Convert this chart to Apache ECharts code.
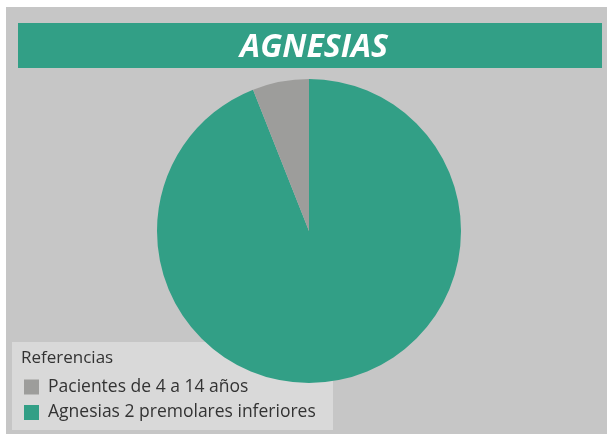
<!DOCTYPE html>
<html>
<head>
<meta charset="utf-8">
<script src="https://cdn.jsdelivr.net/npm/echarts@6/dist/echarts.min.js"></script>
<style>
    html, body { margin: 0; padding: 0; background: #ffffff; }
    #chart { width: 607px; height: 434px; }
</style>
</head>
<body>
<div id="chart"></div>
<script>
// datos del grafico
const categories = ['Agnesias 2 premolares inferiores', 'Pacientes de 4 a 14 años'];
const values = [94, 6];
const colors = ['#329f86', '#9d9d9b'];
const legendOrder = ['Pacientes de 4 a 14 años', 'Agnesias 2 premolares inferiores'];

const chart = echarts.init(document.getElementById('chart'));

let pieData = categories.map((name, i) => {
    return {name: name, value: values[i], itemStyle: {color: colors[i]}};
});

chart.setOption({
    animation: false,
    backgroundColor: '#ffffff',
    graphic: [
        // fondo gris
        {type: 'rect', z: -10, shape: {x: 6, y: 7, width: 601, height: 427}, style: {fill: '#c6c6c6'}},
        // barra del titulo
        {type: 'rect', z: -9, shape: {x: 18, y: 23, width: 584, height: 45}, style: {fill: '#329f86'}},
        // caja de referencias
        {type: 'rect', z: -9, shape: {x: 12, y: 342, width: 321, height: 88}, style: {fill: '#d9d9d9'}},
        {
            type: 'text', left: 21, top: 350,
            style: {text: 'Referencias', fill: '#333333', font: '17px "Open Sans"'}
        }
    ],
    title: {
        text: 'AGNESIAS',
        left: 309,
        textAlign: 'center',
        top: 27,
        textStyle: {
            color: '#ffffff',
            fontFamily: 'Open Sans',
            fontStyle: 'italic',
            fontWeight: 'bold',
            fontSize: 32
        }
    },
    legend: {
        orient: 'vertical',
        left: 19,
        top: 373,
        itemWidth: 15,
        itemHeight: 15,
        itemGap: 7.5,
        icon: 'rect',
        selectedMode: false,
        data: legendOrder,
        textStyle: {
            color: '#333333',
            fontFamily: 'Open Sans',
            fontSize: 17.5,
            padding: [0, 0, 0, 4]
        }
    },
    series: [
        {
            type: 'pie',
            center: [309, 231],
            radius: [0, 152],
            startAngle: 90,
            clockwise: true,
            silent: true,
            label: {show: false},
            labelLine: {show: false},
            emphasis: {disabled: true},
            data: pieData
        }
    ]
});
</script>
</body>
</html>
